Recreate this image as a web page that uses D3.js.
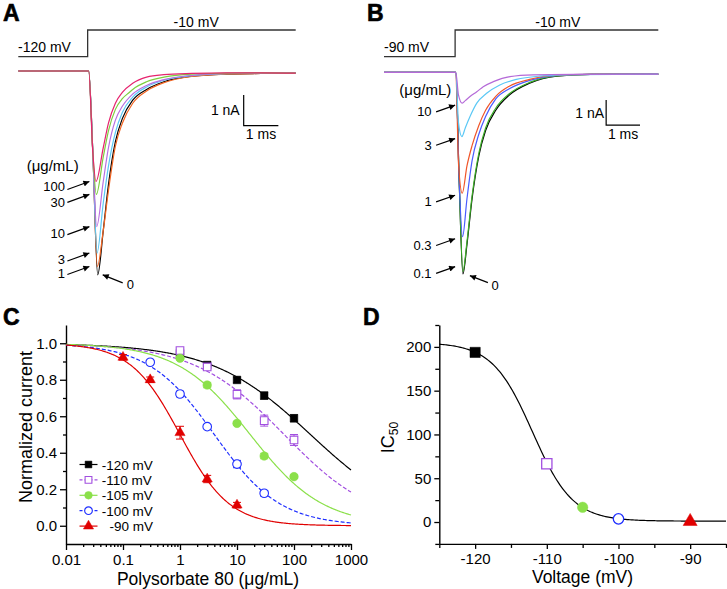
<!DOCTYPE html>
<html><head><meta charset="utf-8">
<script src="https://cdn.jsdelivr.net/npm/d3@7"></script>
<style>body{margin:0;background:#fff} svg{display:block}</style>
</head><body><svg id="c" width="727" height="589"></svg>
<script>
// ---------------- DATA ----------------
// Panel A: current traces at -120 mV holding (time ms, current nA)
const concLabelsA = ["0","1","3","10","30","100"];
const traceA0   = [[-2,0],[0.03,0],[0.15,-2.67],[0.29,-6.64],[0.45,-5.2],[0.6,-3.7],[0.8,-2.3],[1.0,-1.55],[1.3,-0.95],[1.7,-0.6],[2.2,-0.35],[3.0,-0.17],[4.0,-0.1],[5.0,-0.08],[6.0,-0.07]];
const traceA1   = [[-2,0],[0.03,0],[0.15,-2.67],[0.28,-6.37],[0.45,-5.2],[0.6,-3.9],[0.8,-2.45],[1.0,-1.7],[1.3,-1.05],[1.7,-0.65],[2.2,-0.38],[3.0,-0.18],[4.0,-0.1],[5.0,-0.08],[6.0,-0.07]];
const traceA3   = [[-2,0],[0.03,0],[0.15,-2.67],[0.27,-5.93],[0.45,-4.3],[0.6,-3.1],[0.8,-2.0],[1.0,-1.35],[1.3,-0.85],[1.7,-0.52],[2.2,-0.3],[3.0,-0.15],[4.0,-0.09],[5.0,-0.07],[6.0,-0.07]];
const traceA10  = [[-2,0],[0.03,0],[0.15,-2.67],[0.26,-5.07],[0.45,-3.6],[0.6,-2.5],[0.8,-1.6],[1.0,-1.15],[1.3,-0.75],[1.7,-0.47],[2.2,-0.28],[3.0,-0.14],[4.0,-0.08],[5.0,-0.07],[6.0,-0.07]];
const traceA30  = [[-2,0],[0.03,0],[0.15,-2.67],[0.25,-4.02],[0.45,-2.8],[0.6,-1.95],[0.8,-1.25],[1.0,-0.9],[1.2,-0.7],[1.3,-0.6],[1.7,-0.35],[2.2,-0.2],[3.0,-0.1],[4.0,-0.07],[5.0,-0.06],[6.0,-0.07]];
const traceA100 = [[-2,0],[0.03,0],[0.15,-2.67],[0.24,-3.6],[0.45,-2.5],[0.6,-1.7],[0.8,-1.05],[1.0,-0.7],[1.3,-0.4],[1.7,-0.2],[2.2,-0.12],[3.0,-0.08],[4.0,-0.06],[5.0,-0.06],[6.0,-0.07]];
const protocolA = [[-2,-120],[0,-10],[6,-10]];

// Panel B: current traces at -90 mV holding
const concLabelsB = ["0","0.1","0.3","1","3","10"];
const traceB0   = [[-2.1,0],[0.02,0],[0.12,-4.3],[0.23,-7.97],[0.35,-6.8],[0.5,-5.0],[0.7,-3.3],[0.9,-2.3],[1.2,-1.5],[1.6,-0.9],[2.2,-0.43],[3.0,-0.15],[4.0,-0.08],[6.0,-0.07]];
const traceB01  = [[-2.1,0],[0.02,0],[0.12,-4.3],[0.23,-7.88],[0.35,-6.7],[0.5,-4.9],[0.7,-3.2],[0.9,-2.2],[1.2,-1.42],[1.6,-0.85],[2.2,-0.4],[3.0,-0.14],[4.0,-0.08],[6.0,-0.07]];
const traceB03  = [[-2.1,0],[0.02,0],[0.12,-4.3],[0.22,-6.5],[0.35,-5.0],[0.5,-3.5],[0.7,-2.45],[0.9,-1.75],[1.2,-1.05],[1.6,-0.65],[2.2,-0.32],[3.0,-0.12],[4.0,-0.08],[6.0,-0.07]];
const traceB1   = [[-2.1,0],[0.02,0],[0.1,-3.6],[0.21,-4.78],[0.35,-3.7],[0.5,-2.9],[0.7,-2.1],[0.9,-1.5],[1.2,-0.95],[1.6,-0.55],[2.2,-0.28],[3.0,-0.11],[4.0,-0.08],[6.0,-0.07]];
const traceB3   = [[-2.1,0],[0.02,0],[0.1,-2.0],[0.2,-2.54],[0.3,-2.2],[0.44,-1.75],[0.64,-1.22],[0.93,-0.83],[1.32,-0.5],[1.81,-0.28],[2.5,-0.15],[3.5,-0.09],[6.0,-0.07]];
const traceB10  = [[-2.1,0],[0.02,0],[0.1,-0.9],[0.21,-1.22],[0.3,-1.12],[0.44,-0.96],[0.64,-0.77],[0.83,-0.57],[1.13,-0.37],[1.62,-0.17],[2.3,-0.1],[3.5,-0.08],[6.0,-0.07]];
const protocolB = [[-2.1,-90],[0,-10],[6,-10]];

// Panel C: concentration-response (µg/mL, normalized current)
const seriesNamesC = ["-120 mV","-110 mV","-105 mV","-100 mV","-90 mV"];
const concC120 = [1,3,10,30,100],    currC120 = [0.945,0.881,0.799,0.713,0.589], errC120 = [0.01,0.01,0.015,0.02,0.02];
const concC110 = [1,3,10,30,100],    currC110 = [0.96,0.87,0.72,0.576,0.47],     errC110 = [0.01,0.01,0.025,0.03,0.03];
const concC105 = [1,3,10,30,100],    currC105 = [0.918,0.771,0.561,0.382,0.269], errC105 = [0.01,0.015,0.01,0.015,0.01];
const concC100 = [0.3,1,3,10,30],    currC100 = [0.896,0.722,0.543,0.338,0.178], errC100 = [0.01,0.015,0.01,0.02,0.015];
const concC90  = [0.1,0.3,1,3,10],   currC90  = [0.923,0.80,0.51,0.256,0.113],   errC90  = [0.015,0.015,0.035,0.02,0.015];
// Hill fit parameters per voltage
const ic50C = [194,67,17,4,1.0];
const hillC = [0.5,0.55,0.68,0.75,1.0];

// Panel D: IC50 vs voltage
const voltD = [-120,-110,-105,-100,-90];
const ic50D = [193.7,66.5,16.8,3.6,0.6];
// Boltzmann fit parameters
const boltzTop = 205, boltzBottom = 1, boltzV0 = -112, boltzK = 2.8;

// ---------------- STYLE / LAYOUT ----------------
const font = '"Liberation Sans", Arial, Helvetica, sans-serif';
const colA = ["#000000","#f26522","#5ac8f5","#b86ee0","#7dcf3e","#e6246e"];
const colB = ["#000000","#3cae28","#4a5cff","#f0562a","#5bc8f5","#b56ad8"];
const colC = ["#000000","#a24fe0","#8be04a","#1f2fff","#e00000"];
const dashC = [null,"4,2",null,"4,2",null];
const symC = [d3.symbolSquare,d3.symbolSquare,d3.symbolCircle,d3.symbolCircle,d3.symbolTriangle];
const openC = [false,true,false,true,false];

const svg = d3.select("#c");
svg.append("rect").attr("width",727).attr("height",589).attr("fill","#fff");
const defs = svg.append("defs");
defs.append("marker").attr("id","ah").attr("viewBox","0 0 10 10").attr("refX",10).attr("refY",5)
  .attr("markerWidth",7).attr("markerHeight",6).attr("markerUnits","userSpaceOnUse").attr("orient","auto")
  .append("path").attr("d","M0,0L10,5L0,10z").attr("fill","#000");

function txt(x,y,s,fs,anchor,weight){
  return svg.append("text").attr("x",x).attr("y",y).attr("font-family",font).attr("font-size",fs)
    .attr("text-anchor",anchor||"start").attr("font-weight",weight||"normal").attr("fill","#000").text(s);
}
function arrow(x1,y1,x2,y2){
  svg.append("line").attr("x1",x1).attr("y1",y1).attr("x2",x2).attr("y2",y2)
    .attr("stroke","#000").attr("stroke-width",1.2).attr("marker-end","url(#ah)");
}

// Panel letters
[["A",3,21],["B",367,21],["C",3,325],["D",363,325]].forEach(d=>{
  txt(d[1],d[2],d[0],23,"start","bold").attr("stroke","#000").attr("stroke-width",0.6);
});

// ---------------- PANEL A ----------------
const xA = d3.scaleLinear().domain([-2,6]).range([18.3,295.7]);
const yA = d3.scaleLinear().domain([0,-1]).range([71,101.7]);
const vA = d3.scaleLinear().domain([-120,-10]).range([56.7,30]);
svg.append("path").datum(protocolA).attr("fill","none").attr("stroke","#333").attr("stroke-width",1.3)
  .attr("d",d3.line().x(d=>xA(d[0])).y(d=>vA(d[1])).curve(d3.curveStepAfter));
txt(18,51.7,"-120 mV",14);
txt(xA(3.13),26.7,"-10 mV",14,"middle");
const tracesA = [traceA0,traceA1,traceA3,traceA10,traceA30,traceA100];
const lineA = d3.line().x(d=>xA(d[0])).y(d=>yA(d[1])).curve(d3.curveMonotoneX);
tracesA.forEach((t,i)=>{
  svg.append("path").datum(t).attr("fill","none").attr("stroke",colA[i]).attr("stroke-width",1.2).attr("d",lineA);
});
// scale bar A
svg.append("path").attr("fill","none").attr("stroke","#000").attr("stroke-width",1.2)
  .attr("d",`M${xA(4.5)},${yA(-0.78)}V${yA(-1.78)}H${xA(5.5)}`);
txt(xA(4.5)-4,115,"1 nA",14,"end");
txt(xA(5.0),139,"1 ms",14,"middle");
// labels A
txt(26.7,170.5,"(\u03bcg/mL)",15);
const labelDyA = [0,11,11,11,12.5,9];
tracesA.forEach((t,i)=>{
  if(i===0) return;
  const pk = d3.min(t,d=>d[1]);
  const tx = xA(0.05), ty = yA(pk);
  arrow(tx-22,ty+8,tx,ty);
  txt(tx-24.5,ty+labelDyA[i],concLabelsA[i],13,"end");
});
{
  const t = traceA0, pk = d3.min(t,d=>d[1]), pt = t.find(d=>d[1]===pk)[0];
  const tx = xA(pt)+5, ty = yA(pk);
  arrow(tx+20,ty+8,tx,ty);
  txt(tx+24,ty+14,"0",13);
}

// ---------------- PANEL B ----------------
const xB = d3.scaleLinear().domain([-2.1,6]).range([384,658.3]);
const yB = d3.scaleLinear().domain([0,-1]).range([72.3,97.6]);
const vB = d3.scaleLinear().domain([-90,-10]).range([56.7,30]);
svg.append("path").datum(protocolB).attr("fill","none").attr("stroke","#333").attr("stroke-width",1.3)
  .attr("d",d3.line().x(d=>xB(d[0])).y(d=>vB(d[1])).curve(d3.curveStepAfter));
txt(384,51.7,"-90 mV",14);
txt(557.8,26.7,"-10 mV",14,"middle");
const tracesB = [traceB0,traceB01,traceB03,traceB1,traceB3,traceB10];
const lineB = d3.line().x(d=>xB(d[0])).y(d=>yB(d[1])).curve(d3.curveMonotoneX);
tracesB.forEach((t,i)=>{
  svg.append("path").datum(t).attr("fill","none").attr("stroke",colB[i]).attr("stroke-width",1.2).attr("d",lineB);
});
svg.append("path").attr("fill","none").attr("stroke","#000").attr("stroke-width",1.2)
  .attr("d",`M${xB(4.46)},${yB(-1.09)}V${yB(-2.09)}H${xB(5.46)}`);
txt(xB(4.46)-2,118.3,"1 nA",14,"end");
txt(xB(4.96),139,"1 ms",14,"middle");
txt(399.3,94.5,"(\u03bcg/mL)",15);
const tipOffB = [0,-5,2,2,2,2];
tracesB.forEach((t,i)=>{
  if(i===0) return;
  const pk = d3.min(t,d=>d[1]);
  const tx = xB(0), ty = yB(pk)+tipOffB[i];
  arrow(tx-19,ty+6.7,tx,ty);
  txt(tx-23.5,ty+11,concLabelsB[i],13,"end");
});
{
  const t = traceB0, pk = d3.min(t,d=>d[1]), pt = t.find(d=>d[1]===pk)[0];
  const tx = xB(pt)+7, ty = yB(pk)+1.7;
  arrow(tx+18,ty+7,tx,ty);
  txt(tx+21.5,ty+14,"0",13);
}

// ---------------- PANEL C ----------------
const xC = d3.scaleLog().domain([0.01,1000]).range([66,351]);
const yC = d3.scaleLinear().domain([-0.1,1.1]).range([544,325]);
function styleAxis(g,fs){
  g.attr("font-family",font).attr("font-size",fs);
  g.selectAll("path.domain").attr("stroke","#000").attr("stroke-width",1.4);
  g.selectAll(".tick line").attr("stroke","#000").attr("stroke-width",1.3);
  g.selectAll(".tick text").attr("fill","#000");
}
const decades = [0.01,0.1,1,10,100,1000];
const minorC = [];
decades.slice(0,-1).forEach(d=>{ for(let k=2;k<10;k++) minorC.push(d*k); });
const gxm = svg.append("g").attr("transform",`translate(0,${yC(-0.1)})`)
  .call(d3.axisBottom(xC).tickValues(minorC).tickFormat("").tickSize(3).tickSizeOuter(0));
gxm.select("path.domain").remove(); styleAxis(gxm,15);
const gx = svg.append("g").attr("transform",`translate(0,${yC(-0.1)})`)
  .call(d3.axisBottom(xC).tickValues(decades).tickFormat(d=>d>=1?d3.format("d")(d):String(d)).tickSize(6).tickSizeOuter(0).tickPadding(4));
styleAxis(gx,15);
const gym = svg.append("g").attr("transform",`translate(${xC(0.01)},0)`)
  .call(d3.axisLeft(yC).tickValues([0.1,0.3,0.5,0.7,0.9]).tickFormat("").tickSize(3).tickSizeOuter(0));
gym.select("path.domain").remove(); styleAxis(gym,15);
const gy = svg.append("g").attr("transform",`translate(${xC(0.01)},0)`)
  .call(d3.axisLeft(yC).tickValues([0,0.2,0.4,0.6,0.8,1.0]).tickFormat(d3.format(".1f")).tickSize(6).tickSizeOuter(0).tickPadding(3));
styleAxis(gy,15);
txt(208,585,"Polysorbate 80 (\u03bcg/mL)",17.5,"middle");
svg.append("text").attr("transform","translate(31.5,427) rotate(-90)").attr("font-family",font).attr("font-size",18)
  .attr("text-anchor","middle").attr("fill","#000").text("Normalized current");

const concC = [concC120,concC110,concC105,concC100,concC90];
const currC = [currC120,currC110,currC105,currC100,currC90];
const errC  = [errC120,errC110,errC105,errC100,errC90];
const fitX = d3.range(0,301).map(i=>Math.pow(10,-2+i*5/300));
const lineC = d3.line().x(d=>xC(d[0])).y(d=>yC(d[1]));
ic50C.forEach((ic,i)=>{
  const pts = fitX.map(c=>[c,1/(1+Math.pow(c/ic,hillC[i]))]);
  svg.append("path").datum(pts).attr("fill","none").attr("stroke",colC[i]).attr("stroke-width",1.2)
    .attr("stroke-dasharray",dashC[i]).attr("d",lineC);
});
concC.forEach((cs,i)=>{
  const g = svg.append("g");
  cs.forEach((c,j)=>{
    const x = xC(c), y1 = yC(currC[i][j]-errC[i][j]), y2 = yC(currC[i][j]+errC[i][j]);
    g.append("path").attr("fill","none").attr("stroke",i===0?"#555":colC[i]).attr("stroke-width",1)
      .attr("d",`M${x},${y1}V${y2}M${x-4},${y1}H${x+4}M${x-4},${y2}H${x+4}`);
  });
  cs.forEach((c,j)=>{
    const sz = symC[i]===d3.symbolTriangle?45:58;
    g.append("path").attr("transform",`translate(${xC(c)},${yC(currC[i][j])})`)
      .attr("d",d3.symbol().type(symC[i]).size(sz)())
      .attr("fill",openC[i]?"#fff":colC[i]).attr("stroke",colC[i]).attr("stroke-width",openC[i]?1.1:0.5);
  });
});
// legend
seriesNamesC.forEach((n,i)=>{
  const y = 464.5 + i*15.4;
  svg.append("line").attr("x1",79.5).attr("x2",97.5).attr("y1",y).attr("y2",y).attr("stroke",colC[i])
    .attr("stroke-width",1.2).attr("stroke-dasharray",dashC[i]?"3,2":null);
  const sz = symC[i]===d3.symbolTriangle?45:46;
  svg.append("path").attr("transform",`translate(88.5,${y})`).attr("d",d3.symbol().type(symC[i]).size(sz)())
    .attr("fill",openC[i]?"#fff":colC[i]).attr("stroke",colC[i]).attr("stroke-width",openC[i]?1.1:0.5);
  txt(i===4?109.5:101.7,y+5,n,13.5);
});

// ---------------- PANEL D ----------------
const xD = d3.scaleLinear().domain([-125,-85]).range([439.3,726]);
const yD = d3.scaleLinear().domain([-25,225]).range([543.9,325]);
const gdxm = svg.append("g").attr("transform",`translate(0,${yD(-25)})`)
  .call(d3.axisBottom(xD).tickValues([-125,-115,-105,-95,-85]).tickFormat("").tickSize(4).tickSizeOuter(0));
gdxm.select("path.domain").remove(); styleAxis(gdxm,15);
const gdx = svg.append("g").attr("transform",`translate(0,${yD(-25)})`)
  .call(d3.axisBottom(xD).tickValues([-120,-110,-100,-90]).tickFormat(d=>String(d)).tickSize(5).tickSizeOuter(0).tickPadding(4));
styleAxis(gdx,15);
const gdym = svg.append("g").attr("transform",`translate(${xD(-125)},0)`)
  .call(d3.axisLeft(yD).tickValues([-25,25,75,125,175,225]).tickFormat("").tickSize(4).tickSizeOuter(0));
gdym.select("path.domain").remove(); styleAxis(gdym,15);
const gdy = svg.append("g").attr("transform",`translate(${xD(-125)},0)`)
  .call(d3.axisLeft(yD).tickValues([0,50,100,150,200]).tickFormat(d=>String(d)).tickSize(5).tickSizeOuter(0).tickPadding(3));
styleAxis(gdy,15);
txt(582.5,583,"Voltage (mV)",17.5,"middle");
{
  const t = svg.append("text").attr("transform","translate(393.5,437.5) rotate(-90)").attr("font-family",font)
    .attr("font-size",18).attr("text-anchor","middle").attr("fill","#000");
  t.append("tspan").text("IC");
  t.append("tspan").attr("font-size",12).attr("dy",4).text("50");
}
const fitV = d3.range(0,201).map(i=>-125+i*40/200);
svg.append("path").datum(fitV.map(v=>[v,boltzBottom+(boltzTop-boltzBottom)/(1+Math.exp((v-boltzV0)/boltzK))]))
  .attr("fill","none").attr("stroke","#000").attr("stroke-width",1.2)
  .attr("d",d3.line().x(d=>xD(d[0])).y(d=>yD(d[1])));
voltD.forEach((v,i)=>{
  const sz = symC[i]===d3.symbolTriangle?85:(symC[i]===d3.symbolSquare?105:85);
  svg.append("path").attr("transform",`translate(${xD(v)},${yD(ic50D[i])})`)
    .attr("d",d3.symbol().type(symC[i]).size(sz)())
    .attr("fill",openC[i]?"#fff":colC[i]).attr("stroke",colC[i]).attr("stroke-width",openC[i]?1.3:0.5);
});
</script>
</body></html>
